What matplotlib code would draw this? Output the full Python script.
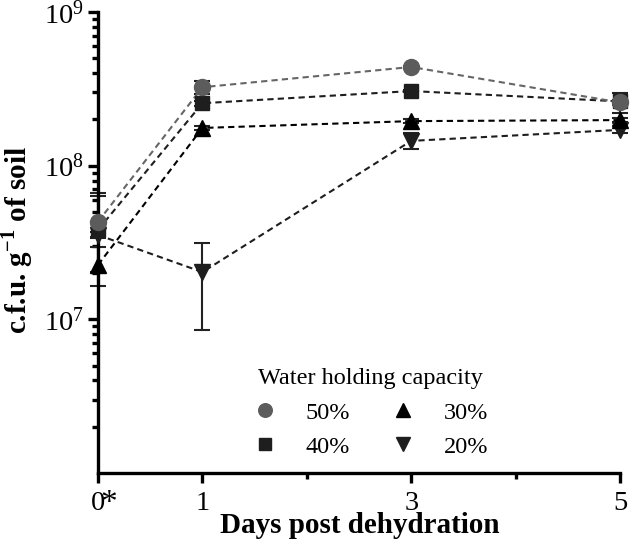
import numpy as np
import matplotlib; matplotlib.use("Agg")
import matplotlib.pyplot as plt
from matplotlib.ticker import LogLocator, NullFormatter, FixedLocator
from matplotlib.lines import Line2D

plt.rcParams.update({"font.family": "Liberation Serif", "mathtext.fontset": "custom",
                     "mathtext.rm": "Liberation Serif", "mathtext.bf": "Liberation Serif:bold"})

days = [0, 1, 3, 5]
labels = ["50%", "40%", "30%", "20%"]
# mean c.f.u. per g soil
m50 = [4.32e7, 3.24e8, 4.39e8, 2.58e8]
m40 = [3.82e7, 2.55e8, 3.06e8, 2.62e8]
m30 = [2.26e7, 1.76e8, 1.95e8, 1.98e8]
m20 = [3.54e7, 2.03e7, 1.45e8, 1.71e8]
# error bar ends (low, high)
lo50 = [2.02e7, 2.91e8, 4.30e8, 2.50e8]; hi50 = [6.67e7, 3.57e8, 4.48e8, 2.66e8]
lo40 = [3.44e7, 2.45e8, 3.00e8, 2.21e8]; hi40 = [6.35e7, 2.65e8, 3.12e8, 2.96e8]
lo30 = [1.65e7, 1.70e8, 1.90e8, 1.92e8]; hi30 = [2.97e7, 1.82e8, 2.00e8, 2.04e8]
lo20 = [3.37e7, 0.85e7, 1.28e8, 1.62e8]; hi20 = [3.72e7, 3.14e7, 1.62e8, 1.80e8]

fig = plt.figure(figsize=(6.3, 5.54), dpi=100)
ax = fig.add_axes([0.1556, 0.1462, 0.8285, 0.8321])

series = [(m20, lo20, hi20, "v", "#1e1e1e", "#1e1e1e", 12),
          (m30, lo30, hi30, "^", "#000000", "#000000", 12),
          (m40, lo40, hi40, "s", "#1e1e1e", "#1e1e1e", 10.5),
          (m50, lo50, hi50, "o", "#5c5c5c", "#666666", 11.5)]
for m, lo, hi, mk, mc, lc, ms in series:
    m = np.array(m); err = [m - np.array(lo), np.array(hi) - m]
    ax.errorbar(days, m, yerr=err, fmt="none", ecolor="#222222", elinewidth=1.5, capsize=5.5, capthick=1.5, clip_on=False, zorder=2)
    ax.plot(days, m, ls=(0, (3, 2)), lw=1.5, color=lc, zorder=3, clip_on=False)
    ax.plot(days, m, ls="none", marker=mk, ms=ms, color=mc, mec=mc, zorder=4, clip_on=False)

ax.set_yscale("log")
ax.set_ylim(1e6, 1e9); ax.set_xlim(0, 5)
ax.yaxis.set_major_locator(FixedLocator([1e7, 1e8, 1e9]))
ax.yaxis.set_minor_locator(LogLocator(base=10, subs=np.arange(2, 10)))
ax.yaxis.set_minor_formatter(NullFormatter())
ax.set_xticks([0, 1, 3, 5]); ax.set_xticklabels(["0", "1", "3", "5"])
ax.set_xticks([2, 4], minor=True)
ax.spines[["top", "right"]].set_visible(False)
for s in ("left", "bottom"): ax.spines[s].set_linewidth(2.4)
ax.tick_params(which="major", direction="out", length=7, width=2.4, labelsize=20.5, pad=3)
ax.tick_params(axis="x", which="major", pad=6)
ax.tick_params(which="minor", direction="out", length=4, width=2.4)
# superscript star next to the 0 tick label
ax.annotate("*", xy=(0, 0), xycoords=("data", "axes fraction"), xytext=(7.5, -28), textcoords="offset points",
            ha="center", va="baseline", fontsize=24, annotation_clip=False)

ax.set_ylabel(r"c.f.u. g$^{\mathbf{-1}}$ of soil", fontsize=21, fontweight="bold")
ax.yaxis.set_label_coords(-0.12, 0.505)
ax.set_xlabel("Days post dehydration", fontsize=21, fontweight="bold")
ax.xaxis.set_label_coords(0.502, -0.085)

hs = [Line2D([], [], ls="none", marker=mk, ms=ms * 0.85, color=mc) for _, _, _, mk, mc, _, ms in series[::-1]]
leg = ax.legend(hs, labels, ncol=2, title="Water holding capacity",
                loc="center", bbox_to_anchor=(0.522, 0.13), frameon=False, fontsize=17.5, title_fontsize=17.5,
                handlelength=1.0, handletextpad=1.15, columnspacing=1.7, labelspacing=0.5)

fig.savefig("out.png", dpi=100, facecolor="white")
